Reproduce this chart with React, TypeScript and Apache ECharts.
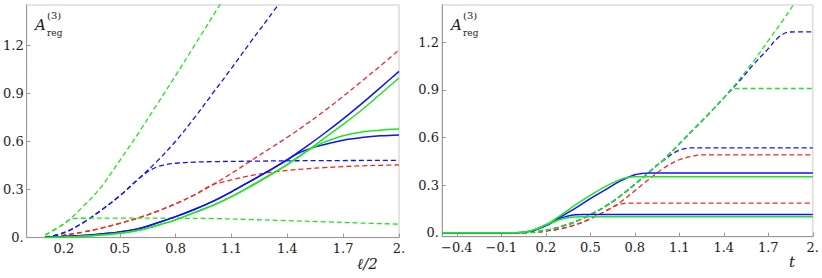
import React, { useEffect, useRef } from "react";
import * as echarts from "echarts";

// ---- Left panel (x = l/2) ----
const leftXTicks = [0.2, 0.5, 0.8, 1.1, 1.4, 1.7, 2.0];
const leftYTicks = [0, 0.3, 0.6, 0.9, 1.2];

const leftGreenDashSteep = [[0.1,0.016],[0.2,0.085],[0.3,0.19],[0.4,0.315],[0.5,0.48],[0.6,0.65],[0.7,0.83],[0.8,1.01],[0.9,1.195],[1.0,1.38],[1.1,1.57]];
const leftGreenDashFlat = [[0.1,0.016],[0.2,0.085],[0.23,0.11],[0.26,0.119],[0.3,0.12],[0.5,0.121],[0.8,0.12],[1.0,0.118],[1.2,0.112],[1.4,0.105],[1.6,0.098],[1.8,0.09],[2.0,0.083]];
const leftBlueDashSteep = [[0.1,0.0],[0.2,0.03],[0.3,0.09],[0.4,0.17],[0.5,0.26],[0.6,0.365],[0.7,0.475],[0.8,0.6],[0.9,0.745],[1.0,0.9],[1.1,1.055],[1.2,1.215],[1.3,1.37],[1.4,1.53]];
const leftBlueDashSat = [[0.1,0.0],[0.2,0.03],[0.3,0.09],[0.4,0.17],[0.5,0.26],[0.6,0.365],[0.65,0.41],[0.7,0.44],[0.75,0.455],[0.8,0.463],[0.9,0.47],[1.0,0.473],[1.2,0.476],[1.5,0.479],[2.0,0.481]];
const leftRedDashSteep = [[0.1,0.005],[0.2,0.015],[0.3,0.033],[0.4,0.058],[0.5,0.088],[0.6,0.122],[0.7,0.163],[0.8,0.21],[0.9,0.265],[1.0,0.33],[1.1,0.4],[1.2,0.475],[1.3,0.55],[1.4,0.625],[1.5,0.705],[1.6,0.79],[1.7,0.88],[1.8,0.975],[1.9,1.07],[2.0,1.17]];
const leftRedDashSat = [[0.1,0.005],[0.2,0.015],[0.3,0.033],[0.4,0.058],[0.5,0.088],[0.6,0.122],[0.7,0.163],[0.8,0.21],[0.9,0.265],[1.0,0.33],[1.05,0.345],[1.1,0.36],[1.2,0.385],[1.3,0.405],[1.4,0.418],[1.5,0.428],[1.6,0.436],[1.7,0.442],[1.8,0.447],[1.9,0.45],[2.0,0.453]];
const leftBlueSolidSteep = [[0.1,0.003],[0.2,0.006],[0.3,0.012],[0.4,0.022],[0.5,0.035],[0.6,0.055],[0.7,0.09],[0.8,0.13],[0.9,0.175],[1.0,0.225],[1.1,0.285],[1.2,0.35],[1.3,0.415],[1.4,0.485],[1.5,0.565],[1.6,0.65],[1.7,0.74],[1.8,0.835],[1.9,0.935],[2.0,1.036]];
const leftBlueSolidSat = [[0.1,0.003],[0.2,0.006],[0.3,0.012],[0.4,0.022],[0.5,0.035],[0.6,0.055],[0.7,0.09],[0.8,0.13],[0.9,0.175],[1.0,0.225],[1.1,0.285],[1.2,0.35],[1.3,0.415],[1.4,0.485],[1.45,0.52],[1.5,0.545],[1.55,0.565],[1.6,0.58],[1.7,0.607],[1.8,0.623],[1.9,0.634],[2.0,0.64]];
const leftGreenSolidSteep = [[0.1,0.0],[0.2,0.003],[0.3,0.008],[0.4,0.016],[0.5,0.027],[0.6,0.045],[0.7,0.075],[0.8,0.11],[0.9,0.155],[1.0,0.2],[1.1,0.255],[1.2,0.318],[1.3,0.385],[1.4,0.455],[1.5,0.535],[1.6,0.62],[1.7,0.705],[1.8,0.795],[1.9,0.895],[2.0,0.995]];
const leftGreenSolidSat = [[0.1,0.0],[0.2,0.003],[0.3,0.008],[0.4,0.016],[0.5,0.027],[0.6,0.045],[0.7,0.075],[0.8,0.11],[0.9,0.155],[1.0,0.2],[1.1,0.255],[1.2,0.318],[1.3,0.385],[1.4,0.455],[1.45,0.495],[1.5,0.535],[1.55,0.568],[1.6,0.595],[1.7,0.635],[1.8,0.658],[1.9,0.669],[2.0,0.676]];

// ---- Right panel (x = t) ----
const rightXTicks = [-0.4, -0.1, 0.2, 0.5, 0.8, 1.1, 1.4, 1.7, 2.0];
const rightYTicks = [0, 0.3, 0.6, 0.9, 1.2];

const rightGreenDashTop = [[-0.5,0],[0,0],[0.1,0.003],[0.2,0.015],[0.3,0.038],[0.4,0.07],[0.5,0.113],[0.6,0.165],[0.7,0.23],[0.8,0.305],[0.9,0.385],[1.0,0.465],[1.1,0.56],[1.2,0.655],[1.3,0.75],[1.4,0.85],[1.5,0.96],[1.6,1.08],[1.7,1.21],[1.8,1.34],[1.9,1.48],[2.0,1.62]];
const rightGreenDashMid = [[-0.5,0],[0,0],[0.1,0.003],[0.2,0.015],[0.3,0.038],[0.4,0.07],[0.5,0.113],[0.6,0.165],[0.7,0.23],[0.8,0.305],[0.9,0.385],[1.0,0.465],[1.1,0.56],[1.2,0.655],[1.3,0.75],[1.4,0.85],[1.45,0.9],[1.5,0.909],[2.0,0.909]];
const rightBlueDashTop = [[-0.5,0],[0,0],[0.1,0.003],[0.2,0.015],[0.3,0.038],[0.4,0.07],[0.5,0.113],[0.6,0.165],[0.7,0.23],[0.8,0.305],[0.9,0.385],[1.0,0.465],[1.1,0.56],[1.2,0.655],[1.3,0.75],[1.4,0.85],[1.5,0.95],[1.6,1.06],[1.7,1.16],[1.75,1.215],[1.8,1.252],[1.85,1.265],[2.0,1.266]];
const rightBlueDashMid = [[-0.5,0],[0,0],[0.1,0.003],[0.2,0.015],[0.3,0.038],[0.4,0.07],[0.5,0.113],[0.6,0.165],[0.7,0.23],[0.8,0.305],[0.9,0.385],[0.95,0.425],[1.0,0.46],[1.05,0.495],[1.1,0.52],[1.15,0.532],[1.2,0.535],[2.0,0.535]];
const rightRedDashTop = [[-0.5,0],[0,0],[0.1,0.002],[0.2,0.01],[0.3,0.025],[0.4,0.05],[0.5,0.088],[0.6,0.135],[0.7,0.19],[0.8,0.265],[0.9,0.34],[1.0,0.41],[1.1,0.46],[1.2,0.484],[1.25,0.49],[2.0,0.49]];
const rightRedDashLow = [[-0.5,0],[0,0],[0.1,0.002],[0.2,0.01],[0.3,0.025],[0.4,0.05],[0.5,0.088],[0.6,0.135],[0.65,0.162],[0.7,0.18],[0.75,0.186],[0.8,0.187],[2.0,0.187]];
const rightBlueSolidTop = [[-0.5,0],[0,0],[0.1,0.01],[0.2,0.045],[0.3,0.1],[0.4,0.155],[0.5,0.215],[0.6,0.27],[0.7,0.325],[0.8,0.365],[0.85,0.374],[0.9,0.376],[2.0,0.376]];
const rightGreenSolidTop = [[-0.5,0],[0,0],[0.1,0.012],[0.2,0.05],[0.3,0.11],[0.4,0.175],[0.5,0.235],[0.6,0.29],[0.7,0.335],[0.75,0.348],[0.8,0.352],[2.0,0.352]];
const rightBlueSolidLow = [[-0.5,0],[0,0],[0.1,0.01],[0.2,0.045],[0.3,0.09],[0.35,0.105],[0.4,0.113],[0.45,0.115],[2.0,0.115]];
const rightGreenSolidLow = [[-0.5,0],[0,0],[0.1,0.012],[0.2,0.05],[0.3,0.085],[0.35,0.095],[0.4,0.099],[0.45,0.1],[2.0,0.1]];

const BLUE = "#1010ff";
const GREEN = "#1ee61e";
const RED = "#ff2222";
const FONT = "DejaVu Serif";

const fmt = (v: number) => {
  if (Math.abs(v) < 1e-9) return "0.";
  const s = Math.abs(v - Math.round(v)) < 1e-9 ? Math.round(v) + "." : v.toFixed(1);
  return s.replace("-", "\u2212");
};

function line(data: number[][], color: string, dashed: boolean, idx: number) {
  return {
    type: "line",
    data,
    xAxisIndex: idx,
    yAxisIndex: idx,
    showSymbol: false,
    symbol: "none",
    smooth: 0.35,
    clip: true,
    lineStyle: { color, width: dashed ? 1.3 : 1.5, type: dashed ? [5, 3] : "solid" },
  };
}

function axis(kind: "x" | "y", idx: number, min: number, max: number, ticks: number[]) {
  return {
    type: "value",
    gridIndex: idx,
    min,
    max,
    position: kind === "x" ? "bottom" : "left",
    axisLine: { show: true, onZero: false, lineStyle: { color: "#9a9a9a", width: 1 } },
    axisTick: { show: true, inside: true, length: 4, customValues: ticks, lineStyle: { color: "#9a9a9a" } },
    axisLabel: { customValues: ticks, formatter: fmt, fontFamily: FONT, fontSize: 13, color: "#222", margin: kind === "x" ? 4 : 3 },
    splitLine: { show: false },
  };
}

function yLabel(x: number) {
  return [
    { type: "text", left: x, top: 17, style: { text: "A", fontFamily: FONT, fontStyle: "italic", fontSize: 15, fill: "#222" } },
    { type: "text", left: x + 12, top: 10, style: { text: "(3)", fontFamily: FONT, fontSize: 10, fill: "#222" } },
    { type: "text", left: x + 12, top: 28, style: { text: "reg", fontFamily: FONT, fontSize: 9, fill: "#222" } },
  ];
}

export default function App() {
  const ref = useRef<HTMLDivElement>(null);
  useEffect(() => {
    if (!ref.current) return;
    const chart = echarts.init(ref.current, undefined, { renderer: "svg" });
    chart.setOption({
      animation: false,
      backgroundColor: "#fff",
      grid: [
        { left: 26, top: 5, width: 373, height: 232.5, show: true, borderColor: "#dcdcdc", borderWidth: 1.5 },
        { left: 442, top: 5, width: 372, height: 231.7, show: true, borderColor: "#dcdcdc", borderWidth: 1.5 },
      ],
      xAxis: [axis("x", 0, 0, 2, leftXTicks), axis("x", 1, -0.5, 2, rightXTicks)],
      yAxis: [axis("y", 0, 0, 1.45, leftYTicks), axis("y", 1, -0.025, 1.435, rightYTicks)],
      series: [
        line(leftRedDashSteep, RED, true, 0),
        line(leftRedDashSat, RED, true, 0),
        line(leftBlueDashSteep, BLUE, true, 0),
        line(leftBlueDashSat, BLUE, true, 0),
        line(leftGreenDashSteep, GREEN, true, 0),
        line(leftGreenDashFlat, GREEN, true, 0),
        line(leftBlueSolidSteep, BLUE, false, 0),
        line(leftBlueSolidSat, BLUE, false, 0),
        line(leftGreenSolidSteep, GREEN, false, 0),
        line(leftGreenSolidSat, GREEN, false, 0),
        line(rightRedDashTop, RED, true, 1),
        line(rightRedDashLow, RED, true, 1),
        line(rightBlueDashTop, BLUE, true, 1),
        line(rightBlueDashMid, BLUE, true, 1),
        line(rightGreenDashTop, GREEN, true, 1),
        line(rightGreenDashMid, GREEN, true, 1),
        line(rightBlueSolidTop, BLUE, false, 1),
        line(rightBlueSolidLow, BLUE, false, 1),
        line(rightGreenSolidTop, GREEN, false, 1),
        line(rightGreenSolidLow, GREEN, false, 1),
      ],
      graphic: [
        ...yLabel(35),
        ...yLabel(451),
        { type: "text", left: 357, top: 256, style: { text: "\u2113/2", fontFamily: FONT, fontStyle: "italic", fontSize: 15, fill: "#222" } },
        { type: "text", left: 789, top: 254, style: { text: "t", fontFamily: FONT, fontStyle: "italic", fontSize: 15, fill: "#222" } },
      ],
    });
    return () => chart.dispose();
  }, []);
  return <div ref={ref} style={{ width: 822, height: 278, position: "absolute", left: 0, top: 0 }} />;
}
